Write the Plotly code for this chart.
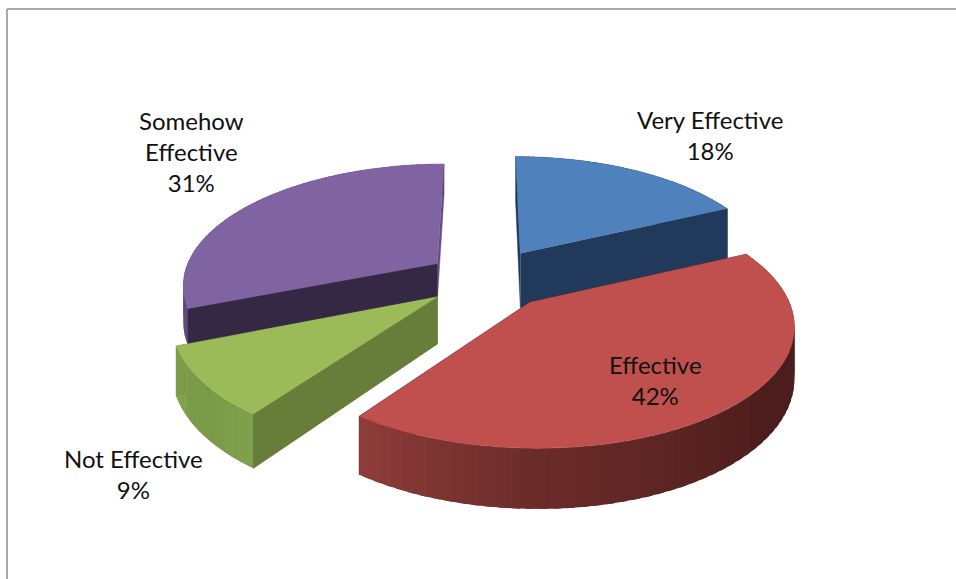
import numpy as np
import plotly.graph_objects as go

categories = ["Very Effective", "Effective", "Not Effective", "Somehow Effective"]
values = [18, 42, 9, 31]
label_text = ["Very Effective<br>18%", "Effective<br>42%", "Not Effective<br>9%", "Somehow<br>Effective<br>31%"]
label_x = [710, 655, 133, 191]
label_y = [135, 380, 474, 151.5]
top_colors = ["#4f81bd", "#c0504d", "#9bbb59", "#8064a2"]
start_cut_colors = ["#21395a", "#4a1c1a", "#677d3a", "#342845"]
end_cut_colors = ["#21395a", "#4a1c1a", "#677d3a", "#654b85"]
rim_stops = {
    "Very Effective": [(0, "#21395a"), (65, "#21395a")],
    "Effective": [(65, "#4b1d1c"), (125, "#4b1d1c"), (180, "#6b2c2a"), (216, "#8f3d3a")],
    "Not Effective": [(216, "#80a14e"), (232, "#7b9a49"), (249, "#80a14e")],
    "Somehow Effective": [(248, "#5e4a7c"), (360, "#5e4a7c")],
}
explode = {"Very Effective": 0.26, "Effective": 0.26, "Not Effective": 0.235, "Somehow Effective": 0.235}
depth = {"Very Effective": 56, "Effective": 49, "Not Effective": 46, "Somehow Effective": 36}
radius_x = {"Very Effective": 255, "Effective": 252, "Not Effective": 255, "Somehow Effective": 255}
radius_y = {"Very Effective": 120, "Effective": 114, "Not Effective": 120, "Somehow Effective": 120}
draw_order = ["Somehow Effective", "Very Effective", "Not Effective", "Effective"]

CX, CY, PERSP = 486, 279, 0.16


def project(X, Y, Z, h, rx, ry):
    Y = np.asarray(Y, float)
    s = 1 / (1 - PERSP * Y)
    return CX + np.asarray(X, float) * rx * s, CY + (Y * ry - np.asarray(Z, float) * h) * s


def hex_rgb(h):
    return np.array([int(h[i:i + 2], 16) for i in (1, 3, 5)], float)


def rim_color(stops, a):
    xs = [p[0] for p in stops]
    cols = np.array([hex_rgb(p[1]) for p in stops])
    c = [np.interp(a, xs, cols[:, i]) for i in range(3)]
    return "rgb(%d,%d,%d)" % tuple(c)


def poly(fig, x, y, color, name, width=0.0):
    fig.add_trace(go.Scatter(x=list(x), y=list(y), mode="lines", fill="toself", fillcolor=color,
                             line=dict(color=color, width=width), hoverinfo="skip", showlegend=False, name=name))


fig = go.Figure()
total = sum(values)
edges = np.concatenate([[0], np.cumsum(values)]) / total * 360
spans = {c: (edges[i], edges[i + 1], i) for i, c in enumerate(categories)}

for cat in draw_order:
    a0, a1, i = spans[cat]
    h, rx, ry = depth[cat], radius_x[cat], radius_y[cat]
    mid = np.radians((a0 + a1) / 2)
    e = explode[cat]
    ox, oy = e * np.sin(mid), -e * np.cos(mid)
    th = np.radians(np.linspace(a0, a1, 121))
    ex_, ey_ = ox + np.sin(th), oy - np.cos(th)

    # the two radial cut faces
    for k, col in [(-1, end_cut_colors[i]), (0, start_cut_colors[i])]:
        px, py = project([ox, ex_[k], ex_[k], ox], [oy, ey_[k], ey_[k], oy], [0, 0, -1, -1], h, rx, ry)
        poly(fig, px, py, col, cat + " face", 0.5)

    # outer wall, drawn as thin overlapping strips for the shading
    n = 60
    ths = np.linspace(a0, a1, n + 1)
    step = ths[1] - ths[0]
    for j in range(n):
        t = np.radians(np.linspace(ths[j], min(ths[j + 1] + step * 0.6, a1), 4))
        wx, wy = ox + np.sin(t), oy - np.cos(t)
        px2, py2 = project(np.r_[wx, wx[::-1]], np.r_[wy, wy[::-1]], np.r_[np.zeros(4), -np.ones(4)], h, rx, ry)
        poly(fig, px2, py2, rim_color(rim_stops[cat], (ths[j] + ths[j + 1]) / 2), cat + " wall")

    # start cut of the slices whose first edge faces the viewer sits over the wall
    if cat in ("Not Effective", "Somehow Effective"):
        px, py = project([ox, ex_[0], ex_[0], ox], [oy, ey_[0], ey_[0], oy], [0, 0, -1, -1], h, rx, ry)
        poly(fig, px, py, start_cut_colors[i], cat + " face", 0.5)

    # top surface
    tx, ty = project(np.r_[ox, ex_], np.r_[oy, ey_], np.zeros(122), h, rx, ry)
    poly(fig, tx, ty, top_colors[i], cat, 0.5)

for t, x, y in zip(label_text, label_x, label_y):
    fig.add_annotation(x=x, y=y, text=t, showarrow=False, xanchor="center", yanchor="middle", align="center",
                       font=dict(family="Lato, Carlito, sans-serif", size=24, color="#111111"))

fig.add_shape(type="line", x0=7, x1=956, y0=9, y1=9, line=dict(color="#8c8c8c", width=1.5))
fig.add_shape(type="line", x0=7, x1=7, y0=9, y1=579, line=dict(color="#8c8c8c", width=1.5))

fig.update_layout(width=956, height=579, margin=dict(l=0, r=0, t=0, b=0), paper_bgcolor="white", plot_bgcolor="white",
                  showlegend=False,
                  xaxis=dict(range=[0, 956], visible=False, fixedrange=True),
                  yaxis=dict(range=[579, 0], visible=False, fixedrange=True))
fig.write_html("out.html", config={"displayModeBar": False},
               post_script="document.body.style.margin='0';document.body.style.overflow='hidden';")
